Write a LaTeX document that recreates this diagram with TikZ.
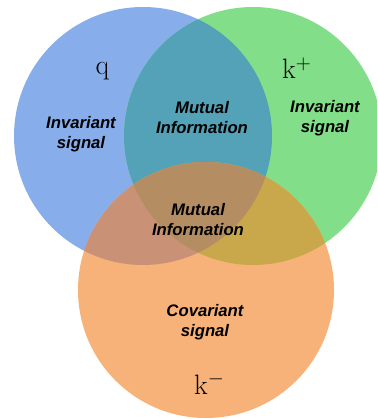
\documentclass[tikz,border=0pt]{standalone}
\usepackage{fontspec}
\setsansfont{Liberation Sans}
\definecolor{cB}{RGB}{135,174,235}
\definecolor{cG}{RGB}{130,222,136}
\definecolor{cO}{RGB}{247,178,122}
\definecolor{cBG}{RGB}{83,162,184}
\definecolor{cBO}{RGB}{201,146,118}
\definecolor{cGO}{RGB}{201,168,76}
\definecolor{cBGO}{RGB}{180,141,99}
\tikzset{
  lbl/.style={font=\sffamily\bfseries\itshape\fontsize{16.7}{20}\selectfont, align=center, inner sep=0pt},
  sym/.style={font=\fontsize{28}{28}\selectfont, inner sep=0pt}
}
\begin{document}
\begin{tikzpicture}[x=1pt,y=-1pt]
\useasboundingbox (0,0) rectangle (377,419);
\clip (0,0) rectangle (377,419);
\coordinate (B) at (143,136);
\coordinate (G) at (253,136);
\coordinate (O) at (206,290);
\def\rB{129pt}\def\rG{129pt}\def\rO{128pt}
\fill[cB] (B) circle[radius=\rB];
\fill[cG] (G) circle[radius=\rG];
\fill[cO] (O) circle[radius=\rO];
\begin{scope}\clip (B) circle[radius=\rB]; \fill[cBG] (G) circle[radius=\rG];\end{scope}
\begin{scope}\clip (B) circle[radius=\rB]; \fill[cBO] (O) circle[radius=\rO];\end{scope}
\begin{scope}\clip (G) circle[radius=\rG]; \fill[cGO] (O) circle[radius=\rO];\end{scope}
\begin{scope}\clip (B) circle[radius=\rB]; \clip (G) circle[radius=\rG]; \fill[cBGO] (O) circle[radius=\rO];\end{scope}
\node[sym, anchor=base] (q) at (102.5,75) {$\mathrm{q}$};
\node[sym, anchor=base west] (kp) at (282,79) {$\mathrm{k}^{+}$};
\node[sym, anchor=base west] (km) at (194,394) {$\mathrm{k}^{-}$};
\node[lbl] (inv1) at (81,134) {Invariant\\signal};
\node[lbl] (mi1) at (202,118) {Mutual\\Information};
\node[lbl] (inv2) at (325,118) {Invariant\\signal};
\node[lbl] (mi2) at (198,220) {Mutual\\Information};
\node[lbl] (cov) at (205,322) {Covariant\\signal};
\end{tikzpicture}
\end{document}
